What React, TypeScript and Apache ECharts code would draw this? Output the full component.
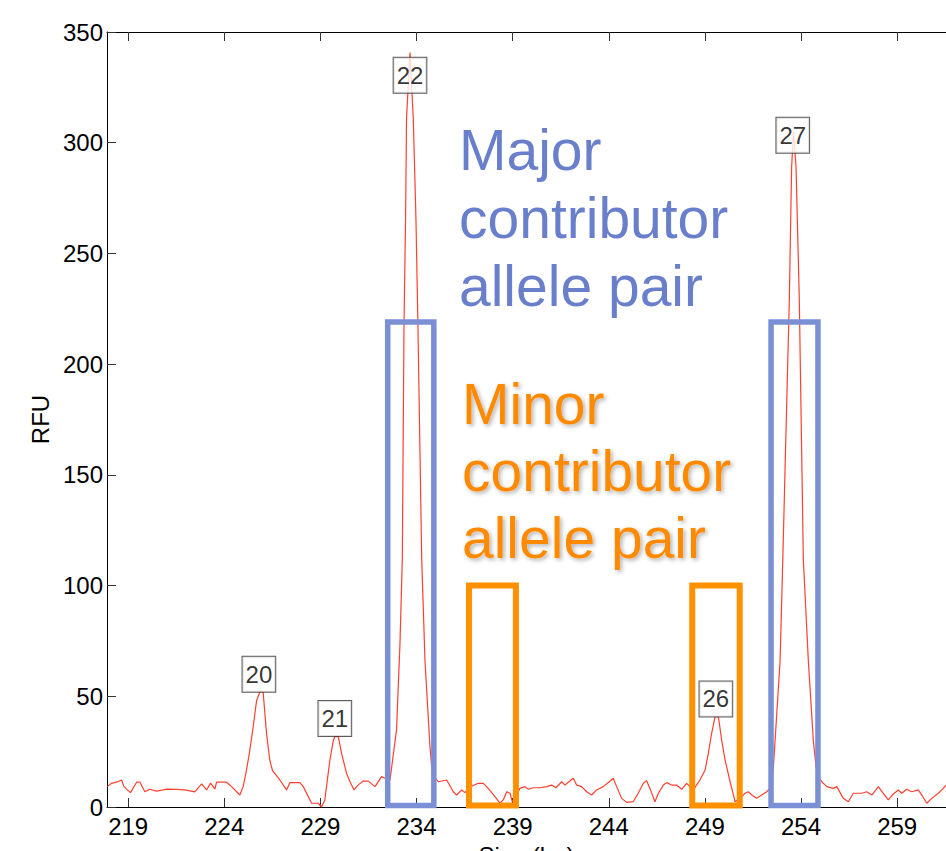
import React, { useEffect, useRef } from "react";
import * as echarts from "echarts";

// Electropherogram trace: fragment size (bp) and signal (RFU)
const traceSize = [
  217.91, 218.14, 218.4, 218.66, 218.78, 219.12, 219.44, 219.61, 219.87, 220.13,
  220.48, 220.82, 221.0, 221.52, 221.95, 222.47, 222.82, 223.08, 223.29, 223.51,
  223.6, 224.12, 224.38, 224.81, 224.98, 225.12, 225.3, 225.5, 225.68, 225.85,
  226.02, 226.2, 226.37, 226.51, 226.89, 227.24, 227.41, 227.93, 228.11, 228.54,
  228.89, 229.06, 229.23, 229.49, 229.67, 229.75, 229.93, 230.1, 230.36, 230.54,
  230.75, 230.97, 231.23, 231.49, 231.84, 232.18, 232.36, 232.62, 232.96, 233.14,
  233.26, 233.35, 233.43, 233.48, 233.66, 233.83, 233.97, 234.07, 234.27, 234.44,
  234.7, 234.79, 234.91, 235.13, 235.57, 235.91, 236.09, 236.35, 236.52, 236.78,
  237.21, 237.47, 237.73, 238.08, 238.34, 238.51, 238.69, 238.86, 238.98, 239.17,
  239.38, 239.64, 239.81, 240.07, 240.42, 240.77, 241.03, 241.25, 241.55, 241.72,
  242.15, 242.33, 242.59, 242.85, 243.11, 243.37, 243.71, 244.03, 244.23, 244.41,
  244.67, 244.93, 245.27, 245.53, 245.8, 245.97, 246.14, 246.4, 246.58, 246.84,
  247.01, 247.27, 247.53, 247.79, 248.05, 248.4, 248.74, 249.01, 249.18, 249.35,
  249.53, 249.7, 249.87, 250.05, 250.31, 250.57, 250.83, 251.09, 251.26, 251.44,
  251.69, 251.95, 252.22, 252.44, 252.56, 252.65, 252.91, 253.05, 253.39, 253.51,
  253.61, 253.74, 253.91, 254.12, 254.38, 254.64, 254.78, 254.89, 255.08, 255.34,
  255.68, 255.86, 256.2, 256.46, 256.72, 257.16, 257.42, 257.68, 258.02, 258.28,
  258.54, 258.8, 259.06, 259.24, 259.49, 259.76, 260.1, 260.28, 260.54, 260.8,
  261.14, 261.4, 261.54,
];
const traceRFU = [
  9.2, 10.7, 11.2, 12.2, 9.2, 6.5, 11.2, 11.3, 6.9, 8.0,
  7.2, 7.7, 8.1, 8.0, 7.7, 6.8, 10.4, 7.7, 10.8, 8.1,
  11.2, 11.2, 9.2, 5.4, 9.2, 15, 24, 36, 48, 52,
  52, 33, 21, 16.4, 12.2, 7.7, 11, 11, 9.2, 1.7,
  1.7, 0, 3.2, 21, 30, 31.8, 31.8, 24.3, 15.2, 11.4,
  7.7, 10, 11.7, 11.7, 9.2, 13.7, 13, 12.2, 34.8, 74,
  111.6, 219, 265.6, 311, 340.7, 311, 265.6, 219, 111.6, 66,
  27, 18, 14, 11.4, 12.2, 6.9, 5.4, 7.7, 6.5, 9,
  10.7, 10.7, 8.4, 4.7, 1.7, 3.2, 6.9, 6.2, 2.4, 5,
  8.4, 9.2, 8.0, 8.7, 8.7, 9.2, 9.9, 8.7, 11.4, 9.9,
  13, 9.9, 9.2, 6.9, 5.4, 7.7, 9.2, 11.4, 13, 9.2,
  3.9, 2.1, 2.4, 6.2, 10.7, 11.9, 8.4, 2.4, 6.2, 9.9,
  11, 9.9, 9.9, 8.0, 10.7, 7.7, 12.2, 16.7, 24.3, 33.3,
  40.8, 40.8, 30.3, 21.2, 11.4, 2.4, 4, 6.2, 6.9, 5.4,
  3.9, 5.4, 6.9, 9, 18, 30, 66, 111.6, 229, 289,
  305, 289, 229, 111.6, 66, 30, 18, 14, 11.4, 9.2,
  8.4, 9.2, 3.9, 2.4, 6.2, 6.2, 6.9, 5.4, 9.2, 6.2,
  3.2, 5.9, 7.7, 6.2, 8.0, 6.9, 7.7, 5.4, 1.7, 3.9,
  6.2, 8.4, 9.9,
];

// Allele call labels
const alleleNames = ["20", "21", "22", "26", "27"];
const alleleSize = [225.8, 229.75, 233.66, 249.57, 253.57];
const alleleLabelRFU = [60, 40, 330.5, 48.8, 303.4];

// Highlight boxes: [sizeStart, sizeEnd, rfuTop]
const majorBoxes = [
  [232.5, 234.9, 219],
  [252.44, 254.88, 219],
];
const minorBoxes = [
  [236.73, 239.17, 100],
  [248.34, 250.81, 100],
];
const boxBottom = 0.7;

const xTicks = [219, 224, 229, 234, 239, 244, 249, 254, 259];
const xMin = 217.9;
const xMax = 261.54;

const FONT = "'Liberation Sans', Arial, Helvetica, sans-serif";
const BLUE_BOX = "#7b8fd5";
const ORANGE_BOX = "#ff9100";

export default function App() {
  const ref = useRef<HTMLDivElement>(null);

  useEffect(() => {
    if (!ref.current) return;
    const chart = echarts.init(ref.current, undefined, { renderer: "svg" });

    const trace = traceSize.map((s, i) => [s, traceRFU[i]]);
    const boxes = [
      ...majorBoxes.map((b) => [b[0], b[1], b[2], 0]),
      ...minorBoxes.map((b) => [b[0], b[1], b[2], 1]),
    ];
    const labels = alleleNames.map((n, i) => ({
      name: n,
      value: [alleleSize[i], alleleLabelRFU[i]],
    }));

    chart.setOption({
      animation: false,
      backgroundColor: "#fff",
      grid: {
        left: 107,
        right: 0,
        top: 32,
        bottom: 44,
        containLabel: false,
        outerBoundsMode: "none",
      },
      xAxis: [
        {
          type: "value",
          position: "bottom",
          min: xMin,
          max: xMax,
          axisLine: { show: true, onZero: false, lineStyle: { color: "#000", width: 1 } },
          axisTick: {
            show: true,
            inside: true,
            length: 9,
            customValues: xTicks,
            lineStyle: { color: "#333" },
          },
          axisLabel: {
            customValues: xTicks,
            fontSize: 24,
            color: "#000",
            fontFamily: FONT,
            margin: 7,
          },
          splitLine: { show: false },
          name: "Size (bp)",
          nameLocation: "middle",
          nameGap: 36,
          nameTextStyle: { fontSize: 24, color: "#000", fontFamily: FONT },
        },
        {
          type: "value",
          position: "top",
          min: xMin,
          max: xMax,
          axisLine: { show: true, onZero: false, lineStyle: { color: "#000", width: 1 } },
          axisTick: {
            show: true,
            inside: true,
            length: 9,
            customValues: xTicks,
            lineStyle: { color: "#333" },
          },
          axisLabel: { show: false },
          splitLine: { show: false },
        },
      ],
      yAxis: {
        type: "value",
        min: 0,
        max: 350,
        interval: 50,
        axisLine: { show: true, onZero: false, lineStyle: { color: "#000", width: 1 } },
        axisTick: { show: true, inside: true, length: 9, lineStyle: { color: "#333" } },
        axisLabel: { fontSize: 24, color: "#000", fontFamily: FONT, margin: 4 },
        splitLine: { show: false },
        name: "RFU",
        nameLocation: "middle",
        nameGap: 52,
        nameTextStyle: { fontSize: 24, color: "#000", fontFamily: FONT },
      },
      series: [
        {
          type: "line",
          data: trace,
          showSymbol: false,
          symbol: "none",
          lineStyle: { color: "#ff4030", width: 1.2 },
          z: 2,
        },
        {
          type: "custom",
          z: 3,
          data: boxes,
          renderItem: (params: any, api: any) => {
            const p0 = api.coord([api.value(0), api.value(2)]);
            const p1 = api.coord([api.value(1), boxBottom]);
            const isMinor = api.value(3) === 1;
            return {
              type: "rect",
              shape: { x: p0[0], y: p0[1], width: p1[0] - p0[0], height: p1[1] - p0[1] },
              style: {
                fill: "none",
                stroke: isMinor ? ORANGE_BOX : BLUE_BOX,
                lineWidth: isMinor ? 6 : 5.5,
              },
            };
          },
        },
        {
          type: "scatter",
          z: 4,
          data: labels,
          symbolSize: 1,
          itemStyle: { color: "rgba(0,0,0,0)" },
          label: {
            show: true,
            position: "inside",
            formatter: (p: any) => p.name,
            fontSize: 24,
            lineHeight: 24,
            color: "#000",
            fontFamily: FONT,
            backgroundColor: "#fff",
            borderColor: "#333",
            borderWidth: 1,
            padding: [6, 3, 5, 3],
          },
        },
      ],
      graphic: [
        {
          type: "text",
          x: 459,
          y: 116,
          z: 10,
          style: {
            text: "Major\ncontributor\nallele pair",
            fontSize: 57,
            fontFamily: FONT,
            lineHeight: 68,
            fill: "#6a7fcb",
            verticalAlign: "top",
          },
        },
        {
          type: "text",
          x: 462,
          y: 370,
          z: 10,
          style: {
            text: "Minor\ncontributor\nallele pair",
            fontSize: 57,
            fontFamily: FONT,
            lineHeight: 67,
            fill: "#ff8a00",
            verticalAlign: "top",
            textShadowColor: "rgba(0,0,0,0.3)",
            textShadowBlur: 4,
            textShadowOffsetX: 2,
            textShadowOffsetY: 2,
          },
        },
      ],
    });

    return () => chart.dispose();
  }, []);

  return (
    <div
      ref={ref}
      style={{ position: "absolute", left: 0, top: 0, width: 946, height: 851 }}
    />
  );
}
